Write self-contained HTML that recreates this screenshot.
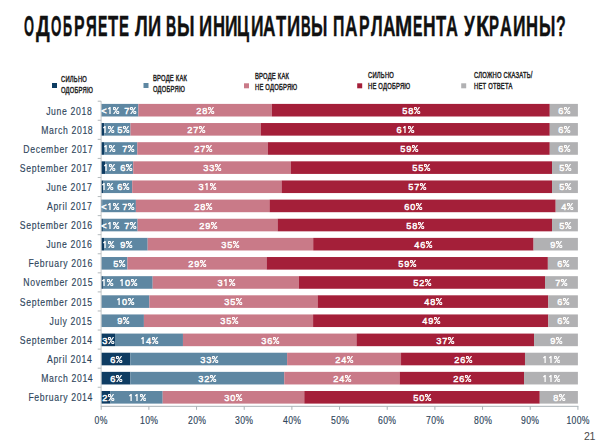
<!DOCTYPE html>
<html><head><meta charset="utf-8"><style>
html,body{margin:0;padding:0;background:#fff;}
body{width:600px;height:447px;position:relative;overflow:hidden;font-family:"Liberation Sans",sans-serif;}
div{position:absolute;}
#g{position:absolute;left:0;top:0;}
.l{width:40px;text-align:center;color:#fff;font-weight:normal;-webkit-text-stroke:0.45px #fff;letter-spacing:0.8px;text-indent:0.8px;font-size:9.4px;line-height:12.6px;height:12.6px;white-space:nowrap;transform:scaleX(0.98);}
.pc{width:6.4px;height:7px;display:inline-block;vertical-align:0;margin-left:0.2px;fill:none;stroke:#fff;stroke-width:1.15;}
.one{width:5px;height:7px;display:inline-block;vertical-align:0;margin-right:0.8px;fill:none;stroke:#fff;stroke-width:1.3;}
.yl{right:507.2px;font-size:10.2px;letter-spacing:0.75px;line-height:12px;color:#2f465c;-webkit-text-stroke:0.15px #2f465c;transform:scaleX(0.85);transform-origin:100% 0;white-space:nowrap;text-align:right;}
.xl{width:40px;text-align:center;font-size:10.2px;letter-spacing:0.3px;text-indent:0.3px;line-height:12px;color:#2f465c;-webkit-text-stroke:0.15px #2f465c;transform:scaleX(0.85);}
.lg{font-size:8.8px;line-height:11.4px;font-weight:normal;-webkit-text-stroke:0.45px #222;letter-spacing:0.35px;color:#222;transform:scaleX(0.66);transform-origin:0 0;white-space:nowrap;}
.tw{top:6.0px;font-size:30px;line-height:40px;font-weight:bold;color:#111;white-space:nowrap;transform-origin:0 0;-webkit-text-stroke:0.4px #111;}
.pg{left:584px;top:429.5px;font-size:10.6px;letter-spacing:-0.4px;color:#4a4a4a;}
</style></head><body>
<svg id="g" width="600" height="447" viewBox="0 0 600 447"><rect x="101.20" y="103.90" width="0.57" height="12.6" fill="#0e3c62"/><rect x="101.77" y="103.90" width="36.61" height="12.6" fill="#5e87a2"/><rect x="138.38" y="103.90" width="133.48" height="12.6" fill="#c97a88"/><rect x="271.86" y="103.90" width="277.92" height="12.6" fill="#a41f39"/><rect x="549.77" y="103.90" width="28.13" height="12.6" fill="#b1b1b3"/><rect x="101.20" y="123.04" width="3.10" height="12.6" fill="#0e3c62"/><rect x="104.30" y="123.04" width="26.22" height="12.6" fill="#5e87a2"/><rect x="130.52" y="123.04" width="130.38" height="12.6" fill="#c97a88"/><rect x="260.89" y="123.04" width="288.88" height="12.6" fill="#a41f39"/><rect x="549.77" y="123.04" width="28.13" height="12.6" fill="#b1b1b3"/><rect x="101.20" y="142.18" width="2.86" height="12.6" fill="#0e3c62"/><rect x="104.06" y="142.18" width="33.23" height="12.6" fill="#5e87a2"/><rect x="137.29" y="142.18" width="130.62" height="12.6" fill="#c97a88"/><rect x="267.90" y="142.18" width="281.87" height="12.6" fill="#a41f39"/><rect x="549.77" y="142.18" width="28.13" height="12.6" fill="#b1b1b3"/><rect x="101.20" y="161.32" width="4.29" height="12.6" fill="#0e3c62"/><rect x="105.49" y="161.32" width="27.70" height="12.6" fill="#5e87a2"/><rect x="133.19" y="161.32" width="157.74" height="12.6" fill="#c97a88"/><rect x="290.93" y="161.32" width="261.09" height="12.6" fill="#a41f39"/><rect x="552.02" y="161.32" width="25.88" height="12.6" fill="#b1b1b3"/><rect x="101.20" y="180.46" width="2.38" height="12.6" fill="#0e3c62"/><rect x="103.58" y="180.46" width="28.60" height="12.6" fill="#5e87a2"/><rect x="132.19" y="180.46" width="149.40" height="12.6" fill="#c97a88"/><rect x="281.58" y="180.46" width="270.43" height="12.6" fill="#a41f39"/><rect x="552.02" y="180.46" width="25.88" height="12.6" fill="#b1b1b3"/><rect x="101.20" y="199.60" width="0.95" height="12.6" fill="#0e3c62"/><rect x="102.15" y="199.60" width="33.75" height="12.6" fill="#5e87a2"/><rect x="135.90" y="199.60" width="133.57" height="12.6" fill="#c97a88"/><rect x="269.48" y="199.60" width="286.21" height="12.6" fill="#a41f39"/><rect x="555.69" y="199.60" width="22.21" height="12.6" fill="#b1b1b3"/><rect x="101.20" y="218.74" width="1.67" height="12.6" fill="#0e3c62"/><rect x="102.87" y="218.74" width="34.75" height="12.6" fill="#5e87a2"/><rect x="137.62" y="218.74" width="139.96" height="12.6" fill="#c97a88"/><rect x="277.58" y="218.74" width="274.44" height="12.6" fill="#a41f39"/><rect x="552.02" y="218.74" width="25.88" height="12.6" fill="#b1b1b3"/><rect x="101.20" y="237.88" width="2.86" height="12.6" fill="#0e3c62"/><rect x="104.06" y="237.88" width="43.62" height="12.6" fill="#5e87a2"/><rect x="147.68" y="237.88" width="165.51" height="12.6" fill="#c97a88"/><rect x="313.19" y="237.88" width="220.38" height="12.6" fill="#a41f39"/><rect x="533.57" y="237.88" width="44.33" height="12.6" fill="#b1b1b3"/><rect x="101.20" y="257.02" width="26.22" height="12.6" fill="#5e87a2"/><rect x="127.42" y="257.02" width="139.20" height="12.6" fill="#c97a88"/><rect x="266.61" y="257.02" width="281.25" height="12.6" fill="#a41f39"/><rect x="547.87" y="257.02" width="30.03" height="12.6" fill="#b1b1b3"/><rect x="101.20" y="276.16" width="1.67" height="12.6" fill="#0e3c62"/><rect x="102.87" y="276.16" width="49.82" height="12.6" fill="#5e87a2"/><rect x="152.68" y="276.16" width="146.11" height="12.6" fill="#c97a88"/><rect x="298.79" y="276.16" width="246.22" height="12.6" fill="#a41f39"/><rect x="545.01" y="276.16" width="32.89" height="12.6" fill="#b1b1b3"/><rect x="101.20" y="295.30" width="48.15" height="12.6" fill="#5e87a2"/><rect x="149.35" y="295.30" width="168.28" height="12.6" fill="#c97a88"/><rect x="317.62" y="295.30" width="230.72" height="12.6" fill="#a41f39"/><rect x="548.34" y="295.30" width="29.56" height="12.6" fill="#b1b1b3"/><rect x="101.20" y="314.44" width="42.71" height="12.6" fill="#5e87a2"/><rect x="143.91" y="314.44" width="169.18" height="12.6" fill="#c97a88"/><rect x="313.09" y="314.44" width="235.25" height="12.6" fill="#a41f39"/><rect x="548.34" y="314.44" width="29.56" height="12.6" fill="#b1b1b3"/><rect x="101.20" y="333.58" width="13.82" height="12.6" fill="#0e3c62"/><rect x="115.02" y="333.58" width="67.93" height="12.6" fill="#5e87a2"/><rect x="182.95" y="333.58" width="173.52" height="12.6" fill="#c97a88"/><rect x="356.47" y="333.58" width="177.57" height="12.6" fill="#a41f39"/><rect x="534.04" y="333.58" width="43.86" height="12.6" fill="#b1b1b3"/><rect x="101.20" y="352.72" width="29.08" height="12.6" fill="#0e3c62"/><rect x="130.28" y="352.72" width="156.83" height="12.6" fill="#5e87a2"/><rect x="287.11" y="352.72" width="113.93" height="12.6" fill="#c97a88"/><rect x="401.04" y="352.72" width="123.94" height="12.6" fill="#a41f39"/><rect x="524.99" y="352.72" width="52.91" height="12.6" fill="#b1b1b3"/><rect x="101.20" y="371.86" width="29.08" height="12.6" fill="#0e3c62"/><rect x="130.28" y="371.86" width="153.97" height="12.6" fill="#5e87a2"/><rect x="284.25" y="371.86" width="115.36" height="12.6" fill="#c97a88"/><rect x="399.61" y="371.86" width="124.42" height="12.6" fill="#a41f39"/><rect x="524.03" y="371.86" width="53.87" height="12.6" fill="#b1b1b3"/><rect x="101.20" y="391.00" width="9.30" height="12.6" fill="#0e3c62"/><rect x="110.50" y="391.00" width="52.20" height="12.6" fill="#5e87a2"/><rect x="162.69" y="391.00" width="141.58" height="12.6" fill="#c97a88"/><rect x="304.27" y="391.00" width="235.49" height="12.6" fill="#a41f39"/><rect x="539.76" y="391.00" width="38.14" height="12.6" fill="#b1b1b3"/><rect x="100.6" y="101.20" width="1" height="305.12" fill="#c4c8ca"/><rect x="97.70" y="100.70" width="3.5" height="1" fill="#b4babd"/><rect x="97.70" y="119.77" width="3.5" height="1" fill="#b4babd"/><rect x="97.70" y="138.84" width="3.5" height="1" fill="#b4babd"/><rect x="97.70" y="157.91" width="3.5" height="1" fill="#b4babd"/><rect x="97.70" y="176.98" width="3.5" height="1" fill="#b4babd"/><rect x="97.70" y="196.05" width="3.5" height="1" fill="#b4babd"/><rect x="97.70" y="215.12" width="3.5" height="1" fill="#b4babd"/><rect x="97.70" y="234.19" width="3.5" height="1" fill="#b4babd"/><rect x="97.70" y="253.26" width="3.5" height="1" fill="#b4babd"/><rect x="97.70" y="272.33" width="3.5" height="1" fill="#b4babd"/><rect x="97.70" y="291.40" width="3.5" height="1" fill="#b4babd"/><rect x="97.70" y="310.47" width="3.5" height="1" fill="#b4babd"/><rect x="97.70" y="329.54" width="3.5" height="1" fill="#b4babd"/><rect x="97.70" y="348.61" width="3.5" height="1" fill="#b4babd"/><rect x="97.70" y="367.68" width="3.5" height="1" fill="#b4babd"/><rect x="97.70" y="386.75" width="3.5" height="1" fill="#b4babd"/><rect x="100.70" y="405.82" width="477.70" height="1" fill="#aab2b6"/><rect x="100.70" y="406.32" width="1" height="3.5" fill="#aab2b6"/><rect x="148.37" y="406.32" width="1" height="3.5" fill="#aab2b6"/><rect x="196.04" y="406.32" width="1" height="3.5" fill="#aab2b6"/><rect x="243.71" y="406.32" width="1" height="3.5" fill="#aab2b6"/><rect x="291.38" y="406.32" width="1" height="3.5" fill="#aab2b6"/><rect x="339.05" y="406.32" width="1" height="3.5" fill="#aab2b6"/><rect x="386.72" y="406.32" width="1" height="3.5" fill="#aab2b6"/><rect x="434.39" y="406.32" width="1" height="3.5" fill="#aab2b6"/><rect x="482.06" y="406.32" width="1" height="3.5" fill="#aab2b6"/><rect x="529.73" y="406.32" width="1" height="3.5" fill="#aab2b6"/><rect x="577.40" y="406.32" width="1" height="3.5" fill="#aab2b6"/><rect x="52" y="83" width="5" height="5" fill="#0e3c62"/><rect x="143.5" y="83" width="5" height="5" fill="#5e87a2"/><rect x="244" y="83.3" width="5" height="5" fill="#c97a88"/><rect x="357.2" y="83.3" width="5" height="5" fill="#a41f39"/><rect x="461.2" y="83.3" width="5" height="5" fill="#b1b1b3"/></svg>
<div class="tw" style="left:24.07px;transform:scaleX(0.4286)">О</div><div class="tw" style="left:35.50px;transform:scaleX(0.6429)">Д</div><div class="tw" style="left:50.76px;transform:scaleX(0.4429)">О</div><div class="tw" style="left:63.16px;transform:scaleX(0.4211)">Б</div><div class="tw" style="left:73.94px;transform:scaleX(0.5294)">Р</div><div class="tw" style="left:85.50px;transform:scaleX(0.5000)">Я</div><div class="tw" style="left:97.56px;transform:scaleX(0.4706)">Е</div><div class="tw" style="left:107.50px;transform:scaleX(0.5556)">Т</div><div class="tw" style="left:119.00px;transform:scaleX(0.5000)">Е</div><div class="tw" style="left:135.00px;transform:scaleX(0.6053)">Л</div><div class="tw" style="left:148.28px;transform:scaleX(0.6111)">И</div><div class="tw" style="left:166.05px;transform:scaleX(0.4737)">В</div><div class="tw" style="left:177.31px;transform:scaleX(0.5962)">Ы</div><div class="tw" style="left:199.28px;transform:scaleX(0.6111)">И</div><div class="tw" style="left:212.89px;transform:scaleX(0.5556)">Н</div><div class="tw" style="left:225.33px;transform:scaleX(0.5833)">И</div><div class="tw" style="left:237.40px;transform:scaleX(0.5500)">Ц</div><div class="tw" style="left:250.83px;transform:scaleX(0.5833)">И</div><div class="tw" style="left:263.43px;transform:scaleX(0.5750)">А</div><div class="tw" style="left:276.00px;transform:scaleX(0.5556)">Т</div><div class="tw" style="left:286.78px;transform:scaleX(0.6111)">И</div><div class="tw" style="left:301.11px;transform:scaleX(0.4474)">В</div><div class="tw" style="left:311.38px;transform:scaleX(0.5577)">Ы</div><div class="tw" style="left:333.44px;transform:scaleX(0.5278)">П</div><div class="tw" style="left:345.43px;transform:scaleX(0.5750)">А</div><div class="tw" style="left:358.94px;transform:scaleX(0.5294)">Р</div><div class="tw" style="left:371.00px;transform:scaleX(0.5526)">Л</div><div class="tw" style="left:382.93px;transform:scaleX(0.5750)">А</div><div class="tw" style="left:395.12px;transform:scaleX(0.6905)">М</div><div class="tw" style="left:412.56px;transform:scaleX(0.4706)">Е</div><div class="tw" style="left:422.83px;transform:scaleX(0.5833)">Н</div><div class="tw" style="left:436.00px;transform:scaleX(0.5556)">Т</div><div class="tw" style="left:446.45px;transform:scaleX(0.5500)">А</div><div class="tw" style="left:464.00px;transform:scaleX(0.5789)">У</div><div class="tw" style="left:476.06px;transform:scaleX(0.7188)">К</div><div class="tw" style="left:489.00px;transform:scaleX(0.5000)">Р</div><div class="tw" style="left:499.95px;transform:scaleX(0.5500)">А</div><div class="tw" style="left:512.83px;transform:scaleX(0.5833)">И</div><div class="tw" style="left:525.89px;transform:scaleX(0.5556)">Н</div><div class="tw" style="left:538.88px;transform:scaleX(0.5577)">Ы</div><div class="tw" style="left:555.97px;transform:scaleX(0.5312)">?</div>

<div class="lg" style="left:61px;top:73.5px">СИЛЬНО<br>ОДОБРЯЮ</div>
<div class="lg" style="left:152.8px;top:72.7px">ВРОДЕ КАК<br>ОДОБРЯЮ</div>
<div class="lg" style="left:255px;top:70.5px">ВРОДЕ КАК<br>НЕ ОДОБРЯЮ</div>
<div class="lg" style="left:368.4px;top:70px">СИЛЬНО<br>НЕ ОДОБРЯЮ</div>
<div class="lg" style="left:474.2px;top:69.5px">СЛОЖНО СКАЗАТЬ/<br>НЕТ ОТВЕТА</div>

<div class="l" style="left:90.25px;top:104.90px">&lt;<svg class="one" viewBox="0 0 5 7"><path d="M1.2 1.9L3 0.5V7"/></svg><svg class="pc" viewBox="0 0 6.4 7"><circle cx="1.5" cy="1.6" r="1.15"/><circle cx="4.9" cy="5.4" r="1.15"/><path d="M0.7 7.1L5.7-0.1"/></svg></div><div class="l" style="left:109.90px;top:104.90px">7<svg class="pc" viewBox="0 0 6.4 7"><circle cx="1.5" cy="1.6" r="1.15"/><circle cx="4.9" cy="5.4" r="1.15"/><path d="M0.7 7.1L5.7-0.1"/></svg></div><div class="l" style="left:185.12px;top:104.90px">28<svg class="pc" viewBox="0 0 6.4 7"><circle cx="1.5" cy="1.6" r="1.15"/><circle cx="4.9" cy="5.4" r="1.15"/><path d="M0.7 7.1L5.7-0.1"/></svg></div><div class="l" style="left:390.82px;top:104.90px">58<svg class="pc" viewBox="0 0 6.4 7"><circle cx="1.5" cy="1.6" r="1.15"/><circle cx="4.9" cy="5.4" r="1.15"/><path d="M0.7 7.1L5.7-0.1"/></svg></div><div class="l" style="left:543.84px;top:104.90px">6<svg class="pc" viewBox="0 0 6.4 7"><circle cx="1.5" cy="1.6" r="1.15"/><circle cx="4.9" cy="5.4" r="1.15"/><path d="M0.7 7.1L5.7-0.1"/></svg></div><div class="yl" style="top:105.83px">June 2018</div><div class="l" style="left:88.20px;top:124.04px"><svg class="one" viewBox="0 0 5 7"><path d="M1.2 1.9L3 0.5V7"/></svg><svg class="pc" viewBox="0 0 6.4 7"><circle cx="1.5" cy="1.6" r="1.15"/><circle cx="4.9" cy="5.4" r="1.15"/><path d="M0.7 7.1L5.7-0.1"/></svg></div><div class="l" style="left:102.80px;top:124.04px">5<svg class="pc" viewBox="0 0 6.4 7"><circle cx="1.5" cy="1.6" r="1.15"/><circle cx="4.9" cy="5.4" r="1.15"/><path d="M0.7 7.1L5.7-0.1"/></svg></div><div class="l" style="left:175.71px;top:124.04px">27<svg class="pc" viewBox="0 0 6.4 7"><circle cx="1.5" cy="1.6" r="1.15"/><circle cx="4.9" cy="5.4" r="1.15"/><path d="M0.7 7.1L5.7-0.1"/></svg></div><div class="l" style="left:385.33px;top:124.04px">6<svg class="one" viewBox="0 0 5 7"><path d="M1.2 1.9L3 0.5V7"/></svg><svg class="pc" viewBox="0 0 6.4 7"><circle cx="1.5" cy="1.6" r="1.15"/><circle cx="4.9" cy="5.4" r="1.15"/><path d="M0.7 7.1L5.7-0.1"/></svg></div><div class="l" style="left:543.84px;top:124.04px">6<svg class="pc" viewBox="0 0 6.4 7"><circle cx="1.5" cy="1.6" r="1.15"/><circle cx="4.9" cy="5.4" r="1.15"/><path d="M0.7 7.1L5.7-0.1"/></svg></div><div class="yl" style="top:124.91px">March 2018</div><div class="l" style="left:88.75px;top:143.18px"><svg class="one" viewBox="0 0 5 7"><path d="M1.2 1.9L3 0.5V7"/></svg><svg class="pc" viewBox="0 0 6.4 7"><circle cx="1.5" cy="1.6" r="1.15"/><circle cx="4.9" cy="5.4" r="1.15"/><path d="M0.7 7.1L5.7-0.1"/></svg></div><div class="l" style="left:108.00px;top:143.18px">7<svg class="pc" viewBox="0 0 6.4 7"><circle cx="1.5" cy="1.6" r="1.15"/><circle cx="4.9" cy="5.4" r="1.15"/><path d="M0.7 7.1L5.7-0.1"/></svg></div><div class="l" style="left:182.59px;top:143.18px">27<svg class="pc" viewBox="0 0 6.4 7"><circle cx="1.5" cy="1.6" r="1.15"/><circle cx="4.9" cy="5.4" r="1.15"/><path d="M0.7 7.1L5.7-0.1"/></svg></div><div class="l" style="left:388.84px;top:143.18px">59<svg class="pc" viewBox="0 0 6.4 7"><circle cx="1.5" cy="1.6" r="1.15"/><circle cx="4.9" cy="5.4" r="1.15"/><path d="M0.7 7.1L5.7-0.1"/></svg></div><div class="l" style="left:543.84px;top:143.18px">6<svg class="pc" viewBox="0 0 6.4 7"><circle cx="1.5" cy="1.6" r="1.15"/><circle cx="4.9" cy="5.4" r="1.15"/><path d="M0.7 7.1L5.7-0.1"/></svg></div><div class="yl" style="top:143.97px">December 2017</div><div class="l" style="left:88.75px;top:162.32px"><svg class="one" viewBox="0 0 5 7"><path d="M1.2 1.9L3 0.5V7"/></svg><svg class="pc" viewBox="0 0 6.4 7"><circle cx="1.5" cy="1.6" r="1.15"/><circle cx="4.9" cy="5.4" r="1.15"/><path d="M0.7 7.1L5.7-0.1"/></svg></div><div class="l" style="left:106.00px;top:162.32px">6<svg class="pc" viewBox="0 0 6.4 7"><circle cx="1.5" cy="1.6" r="1.15"/><circle cx="4.9" cy="5.4" r="1.15"/><path d="M0.7 7.1L5.7-0.1"/></svg></div><div class="l" style="left:192.06px;top:162.32px">33<svg class="pc" viewBox="0 0 6.4 7"><circle cx="1.5" cy="1.6" r="1.15"/><circle cx="4.9" cy="5.4" r="1.15"/><path d="M0.7 7.1L5.7-0.1"/></svg></div><div class="l" style="left:401.47px;top:162.32px">55<svg class="pc" viewBox="0 0 6.4 7"><circle cx="1.5" cy="1.6" r="1.15"/><circle cx="4.9" cy="5.4" r="1.15"/><path d="M0.7 7.1L5.7-0.1"/></svg></div><div class="l" style="left:544.96px;top:162.32px">5<svg class="pc" viewBox="0 0 6.4 7"><circle cx="1.5" cy="1.6" r="1.15"/><circle cx="4.9" cy="5.4" r="1.15"/><path d="M0.7 7.1L5.7-0.1"/></svg></div><div class="yl" style="top:163.04px">September 2017</div><div class="l" style="left:87.25px;top:181.46px"><svg class="one" viewBox="0 0 5 7"><path d="M1.2 1.9L3 0.5V7"/></svg><svg class="pc" viewBox="0 0 6.4 7"><circle cx="1.5" cy="1.6" r="1.15"/><circle cx="4.9" cy="5.4" r="1.15"/><path d="M0.7 7.1L5.7-0.1"/></svg></div><div class="l" style="left:102.50px;top:181.46px">6<svg class="pc" viewBox="0 0 6.4 7"><circle cx="1.5" cy="1.6" r="1.15"/><circle cx="4.9" cy="5.4" r="1.15"/><path d="M0.7 7.1L5.7-0.1"/></svg></div><div class="l" style="left:186.88px;top:181.46px">3<svg class="one" viewBox="0 0 5 7"><path d="M1.2 1.9L3 0.5V7"/></svg><svg class="pc" viewBox="0 0 6.4 7"><circle cx="1.5" cy="1.6" r="1.15"/><circle cx="4.9" cy="5.4" r="1.15"/><path d="M0.7 7.1L5.7-0.1"/></svg></div><div class="l" style="left:396.80px;top:181.46px">57<svg class="pc" viewBox="0 0 6.4 7"><circle cx="1.5" cy="1.6" r="1.15"/><circle cx="4.9" cy="5.4" r="1.15"/><path d="M0.7 7.1L5.7-0.1"/></svg></div><div class="l" style="left:544.96px;top:181.46px">5<svg class="pc" viewBox="0 0 6.4 7"><circle cx="1.5" cy="1.6" r="1.15"/><circle cx="4.9" cy="5.4" r="1.15"/><path d="M0.7 7.1L5.7-0.1"/></svg></div><div class="yl" style="top:182.12px">June 2017</div><div class="l" style="left:90.25px;top:200.60px">&lt;<svg class="one" viewBox="0 0 5 7"><path d="M1.2 1.9L3 0.5V7"/></svg><svg class="pc" viewBox="0 0 6.4 7"><circle cx="1.5" cy="1.6" r="1.15"/><circle cx="4.9" cy="5.4" r="1.15"/><path d="M0.7 7.1L5.7-0.1"/></svg></div><div class="l" style="left:107.75px;top:200.60px">7<svg class="pc" viewBox="0 0 6.4 7"><circle cx="1.5" cy="1.6" r="1.15"/><circle cx="4.9" cy="5.4" r="1.15"/><path d="M0.7 7.1L5.7-0.1"/></svg></div><div class="l" style="left:182.69px;top:200.60px">28<svg class="pc" viewBox="0 0 6.4 7"><circle cx="1.5" cy="1.6" r="1.15"/><circle cx="4.9" cy="5.4" r="1.15"/><path d="M0.7 7.1L5.7-0.1"/></svg></div><div class="l" style="left:392.58px;top:200.60px">60<svg class="pc" viewBox="0 0 6.4 7"><circle cx="1.5" cy="1.6" r="1.15"/><circle cx="4.9" cy="5.4" r="1.15"/><path d="M0.7 7.1L5.7-0.1"/></svg></div><div class="l" style="left:546.79px;top:200.60px">4<svg class="pc" viewBox="0 0 6.4 7"><circle cx="1.5" cy="1.6" r="1.15"/><circle cx="4.9" cy="5.4" r="1.15"/><path d="M0.7 7.1L5.7-0.1"/></svg></div><div class="yl" style="top:201.19px">April 2017</div><div class="l" style="left:89.50px;top:219.74px">&lt;<svg class="one" viewBox="0 0 5 7"><path d="M1.2 1.9L3 0.5V7"/></svg><svg class="pc" viewBox="0 0 6.4 7"><circle cx="1.5" cy="1.6" r="1.15"/><circle cx="4.9" cy="5.4" r="1.15"/><path d="M0.7 7.1L5.7-0.1"/></svg></div><div class="l" style="left:110.25px;top:219.74px">7<svg class="pc" viewBox="0 0 6.4 7"><circle cx="1.5" cy="1.6" r="1.15"/><circle cx="4.9" cy="5.4" r="1.15"/><path d="M0.7 7.1L5.7-0.1"/></svg></div><div class="l" style="left:187.60px;top:219.74px">29<svg class="pc" viewBox="0 0 6.4 7"><circle cx="1.5" cy="1.6" r="1.15"/><circle cx="4.9" cy="5.4" r="1.15"/><path d="M0.7 7.1L5.7-0.1"/></svg></div><div class="l" style="left:394.80px;top:219.74px">58<svg class="pc" viewBox="0 0 6.4 7"><circle cx="1.5" cy="1.6" r="1.15"/><circle cx="4.9" cy="5.4" r="1.15"/><path d="M0.7 7.1L5.7-0.1"/></svg></div><div class="l" style="left:544.96px;top:219.74px">5<svg class="pc" viewBox="0 0 6.4 7"><circle cx="1.5" cy="1.6" r="1.15"/><circle cx="4.9" cy="5.4" r="1.15"/><path d="M0.7 7.1L5.7-0.1"/></svg></div><div class="yl" style="top:220.25px">September 2016</div><div class="l" style="left:87.75px;top:238.88px"><svg class="one" viewBox="0 0 5 7"><path d="M1.2 1.9L3 0.5V7"/></svg><svg class="pc" viewBox="0 0 6.4 7"><circle cx="1.5" cy="1.6" r="1.15"/><circle cx="4.9" cy="5.4" r="1.15"/><path d="M0.7 7.1L5.7-0.1"/></svg></div><div class="l" style="left:106.00px;top:238.88px">9<svg class="pc" viewBox="0 0 6.4 7"><circle cx="1.5" cy="1.6" r="1.15"/><circle cx="4.9" cy="5.4" r="1.15"/><path d="M0.7 7.1L5.7-0.1"/></svg></div><div class="l" style="left:210.43px;top:238.88px">35<svg class="pc" viewBox="0 0 6.4 7"><circle cx="1.5" cy="1.6" r="1.15"/><circle cx="4.9" cy="5.4" r="1.15"/><path d="M0.7 7.1L5.7-0.1"/></svg></div><div class="l" style="left:403.38px;top:238.88px">46<svg class="pc" viewBox="0 0 6.4 7"><circle cx="1.5" cy="1.6" r="1.15"/><circle cx="4.9" cy="5.4" r="1.15"/><path d="M0.7 7.1L5.7-0.1"/></svg></div><div class="l" style="left:535.73px;top:238.88px">9<svg class="pc" viewBox="0 0 6.4 7"><circle cx="1.5" cy="1.6" r="1.15"/><circle cx="4.9" cy="5.4" r="1.15"/><path d="M0.7 7.1L5.7-0.1"/></svg></div><div class="yl" style="top:239.32px">June 2016</div><div class="l" style="left:99.00px;top:258.02px">5<svg class="pc" viewBox="0 0 6.4 7"><circle cx="1.5" cy="1.6" r="1.15"/><circle cx="4.9" cy="5.4" r="1.15"/><path d="M0.7 7.1L5.7-0.1"/></svg></div><div class="l" style="left:177.02px;top:258.02px">29<svg class="pc" viewBox="0 0 6.4 7"><circle cx="1.5" cy="1.6" r="1.15"/><circle cx="4.9" cy="5.4" r="1.15"/><path d="M0.7 7.1L5.7-0.1"/></svg></div><div class="l" style="left:387.24px;top:258.02px">59<svg class="pc" viewBox="0 0 6.4 7"><circle cx="1.5" cy="1.6" r="1.15"/><circle cx="4.9" cy="5.4" r="1.15"/><path d="M0.7 7.1L5.7-0.1"/></svg></div><div class="l" style="left:542.88px;top:258.02px">6<svg class="pc" viewBox="0 0 6.4 7"><circle cx="1.5" cy="1.6" r="1.15"/><circle cx="4.9" cy="5.4" r="1.15"/><path d="M0.7 7.1L5.7-0.1"/></svg></div><div class="yl" style="top:258.40px">February 2016</div><div class="l" style="left:86.50px;top:277.16px"><svg class="one" viewBox="0 0 5 7"><path d="M1.2 1.9L3 0.5V7"/></svg><svg class="pc" viewBox="0 0 6.4 7"><circle cx="1.5" cy="1.6" r="1.15"/><circle cx="4.9" cy="5.4" r="1.15"/><path d="M0.7 7.1L5.7-0.1"/></svg></div><div class="l" style="left:108.00px;top:277.16px"><svg class="one" viewBox="0 0 5 7"><path d="M1.2 1.9L3 0.5V7"/></svg>0<svg class="pc" viewBox="0 0 6.4 7"><circle cx="1.5" cy="1.6" r="1.15"/><circle cx="4.9" cy="5.4" r="1.15"/><path d="M0.7 7.1L5.7-0.1"/></svg></div><div class="l" style="left:205.74px;top:277.16px">3<svg class="one" viewBox="0 0 5 7"><path d="M1.2 1.9L3 0.5V7"/></svg><svg class="pc" viewBox="0 0 6.4 7"><circle cx="1.5" cy="1.6" r="1.15"/><circle cx="4.9" cy="5.4" r="1.15"/><path d="M0.7 7.1L5.7-0.1"/></svg></div><div class="l" style="left:401.90px;top:277.16px">52<svg class="pc" viewBox="0 0 6.4 7"><circle cx="1.5" cy="1.6" r="1.15"/><circle cx="4.9" cy="5.4" r="1.15"/><path d="M0.7 7.1L5.7-0.1"/></svg></div><div class="l" style="left:541.45px;top:277.16px">7<svg class="pc" viewBox="0 0 6.4 7"><circle cx="1.5" cy="1.6" r="1.15"/><circle cx="4.9" cy="5.4" r="1.15"/><path d="M0.7 7.1L5.7-0.1"/></svg></div><div class="yl" style="top:277.47px">November 2015</div><div class="l" style="left:105.27px;top:296.30px"><svg class="one" viewBox="0 0 5 7"><path d="M1.2 1.9L3 0.5V7"/></svg>0<svg class="pc" viewBox="0 0 6.4 7"><circle cx="1.5" cy="1.6" r="1.15"/><circle cx="4.9" cy="5.4" r="1.15"/><path d="M0.7 7.1L5.7-0.1"/></svg></div><div class="l" style="left:213.48px;top:296.30px">35<svg class="pc" viewBox="0 0 6.4 7"><circle cx="1.5" cy="1.6" r="1.15"/><circle cx="4.9" cy="5.4" r="1.15"/><path d="M0.7 7.1L5.7-0.1"/></svg></div><div class="l" style="left:412.98px;top:296.30px">48<svg class="pc" viewBox="0 0 6.4 7"><circle cx="1.5" cy="1.6" r="1.15"/><circle cx="4.9" cy="5.4" r="1.15"/><path d="M0.7 7.1L5.7-0.1"/></svg></div><div class="l" style="left:543.12px;top:296.30px">6<svg class="pc" viewBox="0 0 6.4 7"><circle cx="1.5" cy="1.6" r="1.15"/><circle cx="4.9" cy="5.4" r="1.15"/><path d="M0.7 7.1L5.7-0.1"/></svg></div><div class="yl" style="top:296.54px">September 2015</div><div class="l" style="left:102.56px;top:315.44px">9<svg class="pc" viewBox="0 0 6.4 7"><circle cx="1.5" cy="1.6" r="1.15"/><circle cx="4.9" cy="5.4" r="1.15"/><path d="M0.7 7.1L5.7-0.1"/></svg></div><div class="l" style="left:208.50px;top:315.44px">35<svg class="pc" viewBox="0 0 6.4 7"><circle cx="1.5" cy="1.6" r="1.15"/><circle cx="4.9" cy="5.4" r="1.15"/><path d="M0.7 7.1L5.7-0.1"/></svg></div><div class="l" style="left:410.72px;top:315.44px">49<svg class="pc" viewBox="0 0 6.4 7"><circle cx="1.5" cy="1.6" r="1.15"/><circle cx="4.9" cy="5.4" r="1.15"/><path d="M0.7 7.1L5.7-0.1"/></svg></div><div class="l" style="left:543.12px;top:315.44px">6<svg class="pc" viewBox="0 0 6.4 7"><circle cx="1.5" cy="1.6" r="1.15"/><circle cx="4.9" cy="5.4" r="1.15"/><path d="M0.7 7.1L5.7-0.1"/></svg></div><div class="yl" style="top:315.61px">July 2015</div><div class="l" style="left:88.40px;top:334.58px">3<svg class="pc" viewBox="0 0 6.4 7"><circle cx="1.5" cy="1.6" r="1.15"/><circle cx="4.9" cy="5.4" r="1.15"/><path d="M0.7 7.1L5.7-0.1"/></svg></div><div class="l" style="left:128.99px;top:334.58px"><svg class="one" viewBox="0 0 5 7"><path d="M1.2 1.9L3 0.5V7"/></svg>4<svg class="pc" viewBox="0 0 6.4 7"><circle cx="1.5" cy="1.6" r="1.15"/><circle cx="4.9" cy="5.4" r="1.15"/><path d="M0.7 7.1L5.7-0.1"/></svg></div><div class="l" style="left:249.71px;top:334.58px">36<svg class="pc" viewBox="0 0 6.4 7"><circle cx="1.5" cy="1.6" r="1.15"/><circle cx="4.9" cy="5.4" r="1.15"/><path d="M0.7 7.1L5.7-0.1"/></svg></div><div class="l" style="left:425.26px;top:334.58px">37<svg class="pc" viewBox="0 0 6.4 7"><circle cx="1.5" cy="1.6" r="1.15"/><circle cx="4.9" cy="5.4" r="1.15"/><path d="M0.7 7.1L5.7-0.1"/></svg></div><div class="l" style="left:535.97px;top:334.58px">9<svg class="pc" viewBox="0 0 6.4 7"><circle cx="1.5" cy="1.6" r="1.15"/><circle cx="4.9" cy="5.4" r="1.15"/><path d="M0.7 7.1L5.7-0.1"/></svg></div><div class="yl" style="top:334.68px">September 2014</div><div class="l" style="left:95.74px;top:353.72px">6<svg class="pc" viewBox="0 0 6.4 7"><circle cx="1.5" cy="1.6" r="1.15"/><circle cx="4.9" cy="5.4" r="1.15"/><path d="M0.7 7.1L5.7-0.1"/></svg></div><div class="l" style="left:188.70px;top:353.72px">33<svg class="pc" viewBox="0 0 6.4 7"><circle cx="1.5" cy="1.6" r="1.15"/><circle cx="4.9" cy="5.4" r="1.15"/><path d="M0.7 7.1L5.7-0.1"/></svg></div><div class="l" style="left:324.08px;top:353.72px">24<svg class="pc" viewBox="0 0 6.4 7"><circle cx="1.5" cy="1.6" r="1.15"/><circle cx="4.9" cy="5.4" r="1.15"/><path d="M0.7 7.1L5.7-0.1"/></svg></div><div class="l" style="left:443.02px;top:353.72px">26<svg class="pc" viewBox="0 0 6.4 7"><circle cx="1.5" cy="1.6" r="1.15"/><circle cx="4.9" cy="5.4" r="1.15"/><path d="M0.7 7.1L5.7-0.1"/></svg></div><div class="l" style="left:531.44px;top:353.72px"><svg class="one" viewBox="0 0 5 7"><path d="M1.2 1.9L3 0.5V7"/></svg><svg class="one" viewBox="0 0 5 7"><path d="M1.2 1.9L3 0.5V7"/></svg><svg class="pc" viewBox="0 0 6.4 7"><circle cx="1.5" cy="1.6" r="1.15"/><circle cx="4.9" cy="5.4" r="1.15"/><path d="M0.7 7.1L5.7-0.1"/></svg></div><div class="yl" style="top:353.75px">April 2014</div><div class="l" style="left:95.74px;top:372.86px">6<svg class="pc" viewBox="0 0 6.4 7"><circle cx="1.5" cy="1.6" r="1.15"/><circle cx="4.9" cy="5.4" r="1.15"/><path d="M0.7 7.1L5.7-0.1"/></svg></div><div class="l" style="left:187.27px;top:372.86px">32<svg class="pc" viewBox="0 0 6.4 7"><circle cx="1.5" cy="1.6" r="1.15"/><circle cx="4.9" cy="5.4" r="1.15"/><path d="M0.7 7.1L5.7-0.1"/></svg></div><div class="l" style="left:321.93px;top:372.86px">24<svg class="pc" viewBox="0 0 6.4 7"><circle cx="1.5" cy="1.6" r="1.15"/><circle cx="4.9" cy="5.4" r="1.15"/><path d="M0.7 7.1L5.7-0.1"/></svg></div><div class="l" style="left:441.82px;top:372.86px">26<svg class="pc" viewBox="0 0 6.4 7"><circle cx="1.5" cy="1.6" r="1.15"/><circle cx="4.9" cy="5.4" r="1.15"/><path d="M0.7 7.1L5.7-0.1"/></svg></div><div class="l" style="left:530.97px;top:372.86px"><svg class="one" viewBox="0 0 5 7"><path d="M1.2 1.9L3 0.5V7"/></svg><svg class="one" viewBox="0 0 5 7"><path d="M1.2 1.9L3 0.5V7"/></svg><svg class="pc" viewBox="0 0 6.4 7"><circle cx="1.5" cy="1.6" r="1.15"/><circle cx="4.9" cy="5.4" r="1.15"/><path d="M0.7 7.1L5.7-0.1"/></svg></div><div class="yl" style="top:372.82px">March 2014</div><div class="l" style="left:88.00px;top:392.00px">2<svg class="pc" viewBox="0 0 6.4 7"><circle cx="1.5" cy="1.6" r="1.15"/><circle cx="4.9" cy="5.4" r="1.15"/><path d="M0.7 7.1L5.7-0.1"/></svg></div><div class="l" style="left:117.20px;top:392.00px"><svg class="one" viewBox="0 0 5 7"><path d="M1.2 1.9L3 0.5V7"/></svg><svg class="one" viewBox="0 0 5 7"><path d="M1.2 1.9L3 0.5V7"/></svg><svg class="pc" viewBox="0 0 6.4 7"><circle cx="1.5" cy="1.6" r="1.15"/><circle cx="4.9" cy="5.4" r="1.15"/><path d="M0.7 7.1L5.7-0.1"/></svg></div><div class="l" style="left:213.48px;top:392.00px">30<svg class="pc" viewBox="0 0 6.4 7"><circle cx="1.5" cy="1.6" r="1.15"/><circle cx="4.9" cy="5.4" r="1.15"/><path d="M0.7 7.1L5.7-0.1"/></svg></div><div class="l" style="left:402.02px;top:392.00px">50<svg class="pc" viewBox="0 0 6.4 7"><circle cx="1.5" cy="1.6" r="1.15"/><circle cx="4.9" cy="5.4" r="1.15"/><path d="M0.7 7.1L5.7-0.1"/></svg></div><div class="l" style="left:538.83px;top:392.00px">8<svg class="pc" viewBox="0 0 6.4 7"><circle cx="1.5" cy="1.6" r="1.15"/><circle cx="4.9" cy="5.4" r="1.15"/><path d="M0.7 7.1L5.7-0.1"/></svg></div><div class="yl" style="top:391.89px">February 2014</div><div class="xl" style="left:81.20px;top:414.92px">0%</div><div class="xl" style="left:128.87px;top:414.92px">10%</div><div class="xl" style="left:176.54px;top:414.92px">20%</div><div class="xl" style="left:224.21px;top:414.92px">30%</div><div class="xl" style="left:271.88px;top:414.92px">40%</div><div class="xl" style="left:319.55px;top:414.92px">50%</div><div class="xl" style="left:367.22px;top:414.92px">60%</div><div class="xl" style="left:414.89px;top:414.92px">70%</div><div class="xl" style="left:462.56px;top:414.92px">80%</div><div class="xl" style="left:510.23px;top:414.92px">90%</div><div class="xl" style="left:557.90px;top:414.92px">100%</div>
<div class="pg">21</div>
</body></html>
